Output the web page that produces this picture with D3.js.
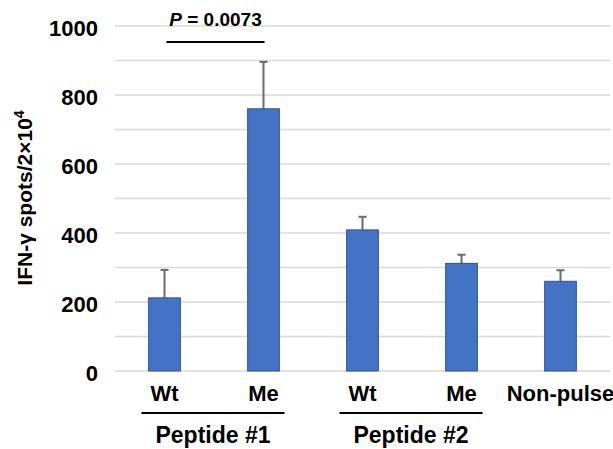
<!DOCTYPE html>
<html>
<head>
<meta charset="utf-8">
<script src="https://cdn.jsdelivr.net/npm/d3@7"></script>
<style>
  body { margin: 0; background: #fff; }
  svg { font-family: "Liberation Sans", Arial, sans-serif; font-weight: bold; }
</style>
</head>
<body>
<script>
// Data
const labels = ["Wt", "Me", "Wt", "Me", "Non-pulse"];
const values = [212, 760, 409, 312, 260];
const errors = [81, 136, 38, 25, 32];
const yTicks = [0, 200, 400, 600, 800, 1000];
const groups = [
  { name: "Peptide #1", from: 0, to: 1 },
  { name: "Peptide #2", from: 2, to: 3 }
];
const pText = "0.0073";

const width = 613;
const height = 449;
const plotLeft = 115;
const plotRight = 610;
const plotTop = 26;
const plotBottom = 371;

const svg = d3.select("body")
  .append("svg")
  .attr("width", width)
  .attr("height", height);

const x = d3.scaleBand()
  .domain(d3.range(labels.length))
  .range([plotLeft, plotRight])
  .paddingInner(0.68)
  .paddingOuter(0.34);

const y = d3.scaleLinear()
  .domain([0, 1000])
  .range([plotBottom, plotTop]);

// gridlines every 100
svg.append("g")
  .selectAll("line")
  .data(d3.range(0, 1001, 100))
  .join("line")
  .attr("x1", plotLeft)
  .attr("x2", plotRight)
  .attr("y1", d => y(d))
  .attr("y2", d => y(d))
  .attr("stroke", "#d9d9d9")
  .attr("stroke-width", 1.3);

// y axis labels
const yAxis = d3.axisLeft(y).tickValues(yTicks).tickFormat(d3.format("d"))
  .tickSize(0).tickPadding(0);
svg.append("g")
  .attr("transform", `translate(98,2)`)
  .call(yAxis)
  .call(g => g.select(".domain").remove())
  .selectAll("text")
  .attr("font-size", 22)
  .attr("font-family", "Liberation Sans, Arial, sans-serif")
  .attr("font-weight", "bold")
  .attr("fill", "#000");

// error bars
const eb = svg.append("g").attr("stroke", "#6b6b6b").attr("stroke-width", 2);
labels.forEach((l, i) => {
  const cx = x(i) + x.bandwidth() / 2;
  eb.append("line")
    .attr("x1", cx).attr("x2", cx)
    .attr("y1", y(values[i])).attr("y2", y(values[i] + errors[i]));
  eb.append("line")
    .attr("x1", cx - 4).attr("x2", cx + 4)
    .attr("y1", y(values[i] + errors[i])).attr("y2", y(values[i] + errors[i]));
});

// bars
svg.append("g")
  .selectAll("rect")
  .data(values)
  .join("rect")
  .attr("x", (d, i) => x(i))
  .attr("y", d => y(d))
  .attr("width", x.bandwidth())
  .attr("height", d => y(0) - y(d))
  .attr("fill", "#4472c4")
  .attr("stroke", "#2f528f")
  .attr("stroke-width", 1);

// x labels
svg.append("g")
  .selectAll("text")
  .data(labels)
  .join("text")
  .attr("x", (d, i) => x(i) + x.bandwidth() / 2)
  .attr("y", 401)
  .attr("text-anchor", "middle")
  .attr("font-size", 22)
  .text(d => d);

// group lines + names
groups.forEach(g => {
  const x1 = x(g.from) + x.bandwidth() / 2 - 23;
  const x2 = x(g.to) + x.bandwidth() / 2 + 21;
  svg.append("line")
    .attr("x1", x1).attr("x2", x2)
    .attr("y1", 413).attr("y2", 413)
    .attr("stroke", "#000").attr("stroke-width", 2);
  svg.append("text")
    .attr("x", (x1 + x2) / 2)
    .attr("y", 443)
    .attr("text-anchor", "middle")
    .attr("font-size", 23)
    .text(g.name);
});

// significance
const s1 = x(0) + x.bandwidth() / 2 + 2;
const s2 = x(1) + x.bandwidth() / 2 + 1;
svg.append("line")
  .attr("x1", s1).attr("x2", s2)
  .attr("y1", 42).attr("y2", 42)
  .attr("stroke", "#000").attr("stroke-width", 2);
const pt = svg.append("text")
  .attr("x", (s1 + s2) / 2)
  .attr("y", 26)
  .attr("text-anchor", "middle")
  .attr("font-size", 19);
pt.append("tspan").attr("font-style", "italic").text("P");
pt.append("tspan").text(" = " + pText);

// y title
const yt = svg.append("text")
  .attr("transform", "translate(32,198) rotate(-90)")
  .attr("text-anchor", "middle")
  .attr("font-size", 21)
  .text("IFN-γ spots/2×10");
yt.append("tspan")
  .attr("font-size", 14)
  .attr("dy", -8)
  .text("4");
</script>
</body>
</html>
